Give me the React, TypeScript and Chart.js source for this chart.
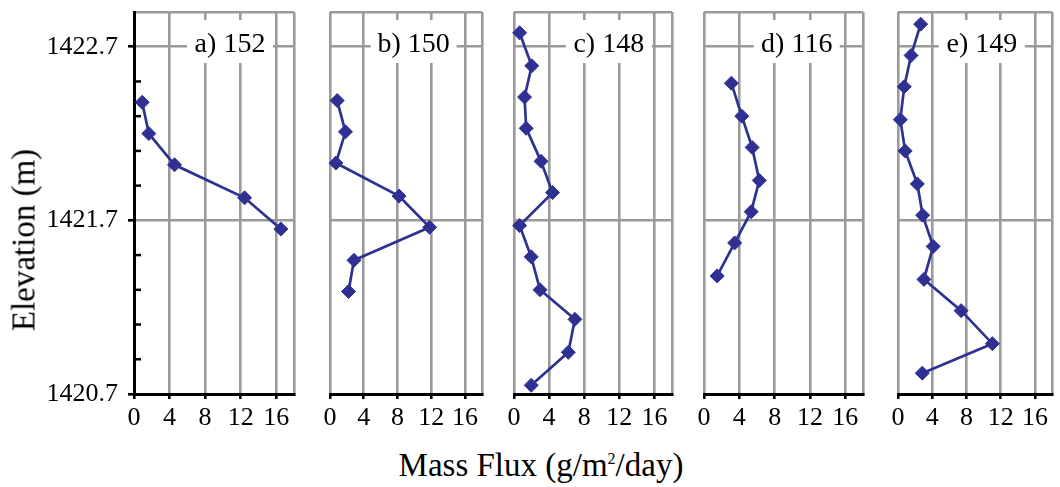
import React, { useEffect, useRef } from 'react';
import { Chart, registerables } from 'chart.js';

Chart.register(...registerables);

// ---- data ----
const fluxA = [0.92, 1.67, 4.56, 12.44, 16.52];
const elevA = [1422.38, 1422.2, 1422.02, 1421.83, 1421.65];

const fluxB = [0.85, 1.83, 0.7, 8.18, 11.8, 2.84, 2.19];
const elevB = [1422.39, 1422.21, 1422.03, 1421.84, 1421.66, 1421.47, 1421.29];

const fluxC = [0.64, 2.02, 1.2, 1.39, 3.08, 4.39, 0.64, 1.96, 2.97, 6.94, 6.19, 1.96];
const elevC = [1422.78, 1422.59, 1422.41, 1422.23, 1422.04, 1421.86, 1421.67, 1421.49, 1421.3, 1421.13, 1420.94, 1420.75];

const fluxD = [3.1, 4.28, 5.45, 6.26, 5.34, 3.47, 1.49];
const elevD = [1422.49, 1422.3, 1422.12, 1421.93, 1421.75, 1421.57, 1421.38];

const fluxE = [2.65, 1.53, 0.73, 0.27, 0.84, 2.26, 2.88, 4.11, 3.03, 7.38, 11.03, 2.84];
const elevE = [1422.83, 1422.65, 1422.47, 1422.28, 1422.1, 1421.91, 1421.73, 1421.55, 1421.36, 1421.18, 1420.99, 1420.82];

const panelLabels = ['a) 152', 'b) 150', 'c) 148', 'd) 116', 'e) 149'];

const xTicks = [0, 4, 8, 12, 16, 18];
const xTickLabels = ['0', '4', '8', '12', '16', ''];
const yTicks = [1420.7, 1420.9, 1421.1, 1421.3, 1421.5, 1421.7, 1421.9, 1422.1, 1422.3, 1422.5, 1422.7, 1422.9];
const yMajorTicks = [1420.7, 1421.7, 1422.7];
const yGridValues = [1421.7, 1422.7, 1422.9];

const X_MIN = 0;
const X_MAX = 18;
const Y_MIN = 1420.7;
const Y_MAX = 1422.9;

// ---- styling / layout ----
const BLUE = '#2e3192';
const GRAY = '#9a9a9a';
const FONT = "'Liberation Serif', 'Times New Roman', serif";
const TOP = 12;
const CANVAS_TOP = -20;
const CANVAS_H = 464;

const panelLayout = [
  { left: 134, right: 296, labelX: 10.8 },
  { left: 330, right: 484, labelX: 9.9 },
  { left: 514, right: 674, labelX: 10.8 },
  { left: 704, right: 865, labelX: 10.5 },
  { left: 898, right: 1054, labelX: 9.8 },
];

const near = (a: number, list: number[]) => list.some((m) => Math.abs(a - m) < 1e-6);

function Panel({ index, flux, elev }: { index: number; flux: number[]; elev: number[] }) {
  const ref = useRef<HTMLCanvasElement>(null);
  const lay = panelLayout[index];
  const first = index === 0;
  const padLeft = first ? 0 : 20;
  const padRight = 6;
  const canvasLeft = first ? 0 : lay.left - padLeft;
  const canvasWidth = lay.right + padRight - canvasLeft;

  useEffect(() => {
    const labelText = panelLabels[index];
    const decorations = {
      id: 'panelDecorations',
      beforeDatasetsDraw(chart: any) {
        const { ctx, chartArea, scales } = chart;
        const cx = scales.x.getPixelForValue(lay.labelX);
        ctx.save();
        ctx.fillStyle = '#ffffff';
        ctx.fillRect(cx - 43, chartArea.top + 8, 86, 43);
        ctx.fillStyle = '#000000';
        ctx.font = `28px ${FONT}`;
        ctx.textAlign = 'center';
        ctx.textBaseline = 'alphabetic';
        ctx.fillText(labelText, cx, chartArea.top + 40);
        ctx.restore();
      },
      afterDraw(chart: any) {
        if (!first) return;
        const { ctx, chartArea, scales } = chart;
        ctx.save();
        ctx.strokeStyle = '#000000';
        ctx.lineWidth = 2.5;
        for (const v of yTicks) {
          if (near(v, yMajorTicks) || near(v, [Y_MAX])) continue;
          const py = scales.y.getPixelForValue(v);
          ctx.beginPath();
          ctx.moveTo(chartArea.left, py);
          ctx.lineTo(chartArea.left + 7, py);
          ctx.stroke();
        }
        ctx.restore();
      },
    };

    const chart = new Chart(ref.current as HTMLCanvasElement, {
      type: 'scatter',
      data: {
        datasets: [
          {
            data: flux.map((x, i) => ({ x, y: elev[i] })),
            showLine: true,
            borderColor: BLUE,
            backgroundColor: BLUE,
            borderWidth: 2.7,
            pointStyle: 'rectRot',
            pointRadius: 7,
            pointHoverRadius: 7,
            pointBorderWidth: 1,
            pointBorderColor: BLUE,
            pointBackgroundColor: BLUE,
            tension: 0,
            clip: false,
          } as any,
        ],
      },
      options: {
        responsive: false,
        animation: false,
        events: [],
        layout: { padding: { left: padLeft, right: padRight, top: TOP - CANVAS_TOP, bottom: 0 } },
        plugins: { legend: { display: false }, tooltip: { enabled: false }, title: { display: false } },
        scales: {
          x: {
            type: 'linear',
            min: X_MIN,
            max: X_MAX,
            afterBuildTicks: (scale: any) => {
              scale.ticks = xTicks.map((v) => ({ value: v }));
            },
            afterFit: (scale: any) => {
              scale.height = 50;
            },
            ticks: {
              autoSkip: false,
              maxRotation: 0,
              padding: 4,
              color: '#000',
              font: { family: FONT, size: 26 },
              callback: (v: any) => xTickLabels[xTicks.indexOf(Number(v))] ?? '',
            },
            grid: {
              color: GRAY,
              lineWidth: 2.6,
              drawTicks: true,
              tickLength: 5,
              tickWidth: 2.6,
              tickColor: (c: any) => (c.tick && c.tick.value === X_MAX ? 'rgba(0,0,0,0)' : '#000'),
            },
            border: { display: true, color: '#000', width: 3 },
          },
          y: {
            type: 'linear',
            min: Y_MIN,
            max: Y_MAX,
            afterBuildTicks: (scale: any) => {
              scale.ticks = yTicks.map((v) => ({ value: v }));
            },
            afterFit: (scale: any) => {
              scale.width = first ? lay.left : 0;
            },
            ticks: {
              display: first,
              autoSkip: false,
              padding: 10,
              color: '#000',
              font: { family: FONT, size: 26 },
              callback: (v: any) => (near(Number(v), yMajorTicks) ? Number(v).toFixed(1) : ''),
            },
            grid: {
              color: (c: any) => (c.tick && near(c.tick.value, yGridValues) ? GRAY : 'rgba(0,0,0,0)'),
              lineWidth: 2.6,
              drawTicks: first,
              tickLength: 6,
              tickWidth: 2.6,
              tickColor: (c: any) => (c.tick && near(c.tick.value, yMajorTicks) ? '#000' : 'rgba(0,0,0,0)'),
            },
            border: { display: first, color: '#000', width: 3 },
          },
        },
      } as any,
      plugins: [decorations],
    });
    return () => chart.destroy();
  }, []);

  return (
    <canvas
      ref={ref}
      width={canvasWidth}
      height={CANVAS_H}
      style={{ position: 'absolute', left: canvasLeft, top: CANVAS_TOP, width: canvasWidth, height: CANVAS_H }}
    />
  );
}

export default function App() {
  const series = [
    { flux: fluxA, elev: elevA },
    { flux: fluxB, elev: elevB },
    { flux: fluxC, elev: elevC },
    { flux: fluxD, elev: elevD },
    { flux: fluxE, elev: elevE },
  ];
  return (
    <div
      style={{
        position: 'fixed',
        left: 0,
        top: 0,
        width: 1060,
        height: 487,
        overflow: 'hidden',
        background: '#ffffff',
        fontFamily: FONT,
        color: '#000',
      }}
    >
      {series.map((s, i) => (
        <Panel key={i} index={i} flux={s.flux} elev={s.elev} />
      ))}
      <div
        style={{
          position: 'absolute',
          left: 24,
          top: 240,
          transform: 'translate(-50%, -50%) rotate(-90deg)',
          whiteSpace: 'nowrap',
          fontSize: 33,
          lineHeight: 1,
        }}
      >
        Elevation (m)
      </div>
      <div
        style={{
          position: 'absolute',
          left: 541,
          top: 449,
          transform: 'translateX(-50%)',
          whiteSpace: 'nowrap',
          fontSize: 33,
          lineHeight: 1,
        }}
      >
        Mass Flux (g/m
        <span style={{ fontSize: 16, position: 'relative', top: -12, verticalAlign: 'baseline' }}>2</span>
        /day)
      </div>
    </div>
  );
}
